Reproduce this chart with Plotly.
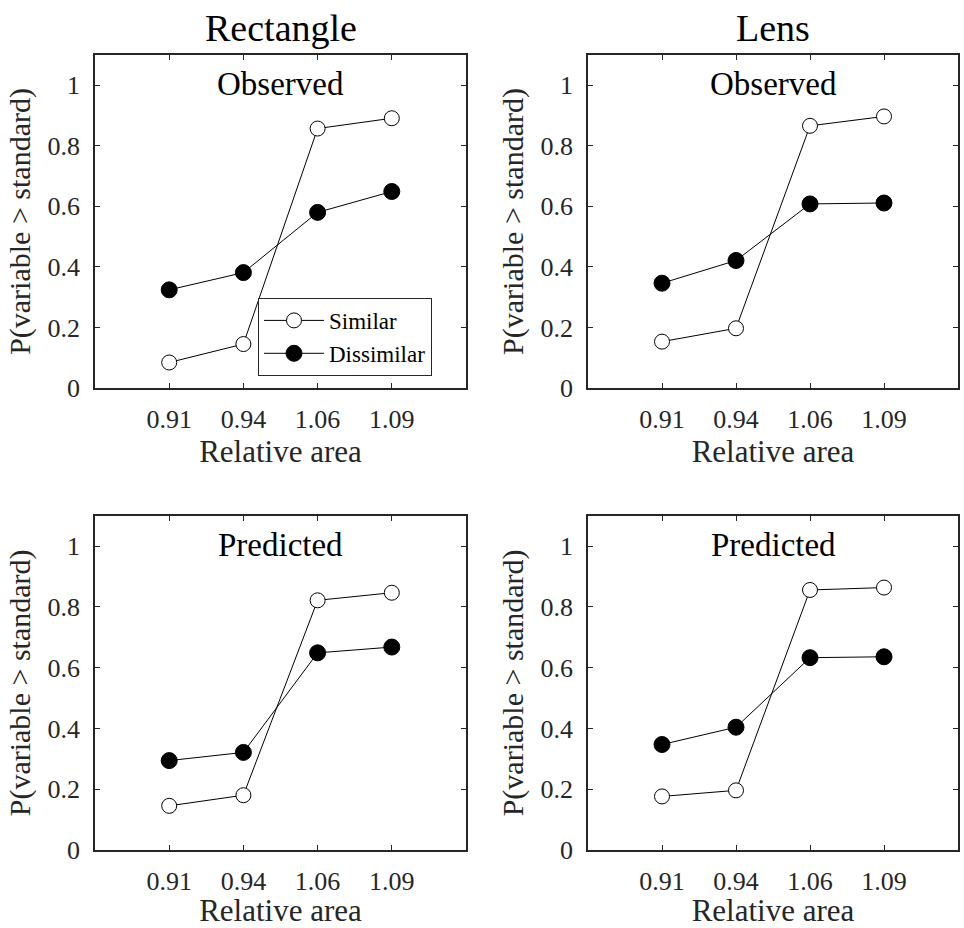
import plotly.graph_objects as go

# Relative-area conditions (x categories) and panel labels
categories = ["0.91", "0.94", "1.06", "1.09"]
shapes_cols = ["Rectangle", "Lens"]
rows_labels = ["Observed", "Predicted"]

# P(variable > standard) for each condition
rect_obs_similar = [0.084, 0.145, 0.857, 0.891]
rect_obs_dissimilar = [0.324, 0.381, 0.580, 0.649]
lens_obs_similar = [0.153, 0.197, 0.866, 0.897]
lens_obs_dissimilar = [0.346, 0.421, 0.608, 0.611]
rect_pred_similar = [0.145, 0.180, 0.822, 0.847]
rect_pred_dissimilar = [0.294, 0.321, 0.649, 0.668]
lens_pred_similar = [0.176, 0.196, 0.856, 0.864]
lens_pred_dissimilar = [0.347, 0.404, 0.633, 0.636]

y_ticks = [0, 0.2, 0.4, 0.6, 0.8, 1]
y_ticktext = ["0", "0.2", "0.4", "0.6", "0.8", "1"]

W, H = 964, 928
FONT = "Times New Roman, Liberation Serif, DejaVu Serif, serif"
INK = "#262626"
SY = 0.984  # vertical layout scale


def py(v):
    """Vertical pixel offset from the top, as a paper fraction."""
    return 1 - (v / SY) / H


xpos = list(range(1, len(categories) + 1))

panels = [
    # (row, col, similar, dissimilar)
    (0, 0, rect_obs_similar, rect_obs_dissimilar),
    (0, 1, lens_obs_similar, lens_obs_dissimilar),
    (1, 0, rect_pred_similar, rect_pred_dissimilar),
    (1, 1, lens_pred_similar, lens_pred_dissimilar),
]

# axis boxes in pixels (left, right) and (top, bottom)
x_px = [(95, 466), (588, 958)]
y_px = [(55, 388), (516, 850)]

fig = go.Figure()
annotations = []

for i, (r, c, sim, dis) in enumerate(panels):
    n = "" if i == 0 else str(i + 1)
    xa, ya = "x" + n, "y" + n
    first = i == 0
    fig.add_trace(go.Scatter(
        x=xpos, y=sim, xaxis=xa, yaxis=ya, mode="lines+markers",
        name="Similar", showlegend=first,
        line=dict(color="black", width=1),
        marker=dict(symbol="circle", size=15, color="white",
                    line=dict(color="black", width=1)),
    ))
    fig.add_trace(go.Scatter(
        x=xpos, y=dis, xaxis=xa, yaxis=ya, mode="lines+markers",
        name="Dissimilar", showlegend=first,
        line=dict(color="black", width=1),
        marker=dict(symbol="circle", size=16, color="black",
                    line=dict(color="black", width=1)),
    ))

    l, rr = x_px[c]
    t, b = y_px[r]
    xdom = [l / W, rr / W]
    ydom = [py(b), py(t)]
    axis_common = dict(
        showline=True, linecolor=INK, linewidth=1.5, mirror="ticks",
        ticks="inside", ticklen=5, tickcolor=INK, tickwidth=1,
        showgrid=False, zeroline=False,
        tickfont=dict(family=FONT, size=26, color=INK),
    )
    fig.layout["xaxis" + n] = dict(
        axis_common, domain=xdom, anchor=ya, range=[0, 5],
        tickvals=xpos, ticktext=categories, ticklabelstandoff=7,
        title=dict(text="Relative area", font=dict(family=FONT, size=31, color=INK),
                   standoff=2),
    )
    fig.layout["yaxis" + n] = dict(
        axis_common, domain=ydom, anchor=xa, range=[0, 1.1],
        tickvals=y_ticks, ticktext=y_ticktext, ticklabelstandoff=8,
        title=dict(text="P(variable > standard)",
                   font=dict(family=FONT, size=30, color=INK), standoff=8),
    )

    annotations.append(dict(
        text=rows_labels[r], xref="paper", yref="paper",
        x=(xdom[0] + xdom[1]) / 2, y=py(t + 29),
        xanchor="center", yanchor="middle", showarrow=False,
        font=dict(family=FONT, size=33, color="black"),
    ))

for c, label in enumerate(shapes_cols):
    l, rr = x_px[c]
    annotations.append(dict(
        text=label, xref="paper", yref="paper",
        x=(l + rr) / 2 / W, y=py(28),
        xanchor="center", yanchor="middle", showarrow=False,
        font=dict(family=FONT, size=38, color="black"),
    ))

fig.update_layout(
    width=W, height=H,
    margin=dict(l=0, r=0, t=0, b=0),
    paper_bgcolor="white", plot_bgcolor="white",
    font=dict(family=FONT, color=INK),
    annotations=annotations,
    legend=dict(
        x=258 / W, y=py(298), xanchor="left", yanchor="top",
        bgcolor="white", bordercolor=INK, borderwidth=1,
        font=dict(family=FONT, size=23, color="black"),
        tracegroupgap=0, itemwidth=60,
    ),
)

fig.write_html("out.html")
